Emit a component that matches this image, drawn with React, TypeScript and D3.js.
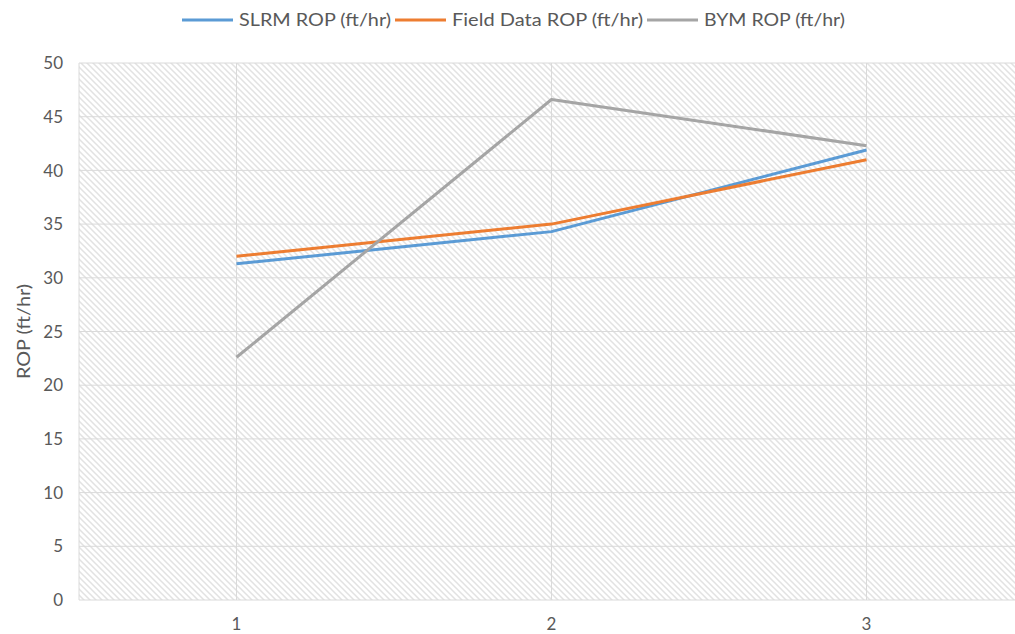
import { useEffect, useRef } from "react";
import * as d3 from "d3";

const categories = ["1", "2", "3"];
const slrm = [31.3, 34.3, 41.9];
const field = [32.0, 35.0, 41.0];
const bym = [22.6, 46.6, 42.3];
const yTicks = [0, 5, 10, 15, 20, 25, 30, 35, 40, 45, 50];

const seriesList = [
  { name: "SLRM ROP (ft/hr)", values: slrm, color: "#5b9bd5" },
  { name: "Field Data ROP (ft/hr)", values: field, color: "#ed7d31" },
  { name: "BYM ROP (ft/hr)", values: bym, color: "#a5a5a5" },
];

function App() {
  const ref = useRef<SVGSVGElement>(null);

  useEffect(() => {
    const width = 1015;
    const height = 634;
    const margin = { top: 63, right: -9, bottom: 34, left: 79 };
    const font = "Lato, 'Open Sans', sans-serif";
    const textColor = "#595959";

    const svg = d3.select(ref.current);
    svg.selectAll("*").remove();
    svg.attr("width", width).attr("height", height);

    // hatch fill for plot area
    const defs = svg.append("defs");
    const pat = defs.append("pattern")
      .attr("id", "hatch")
      .attr("patternUnits", "userSpaceOnUse")
      .attr("width", 6)
      .attr("height", 6);
    pat.append("rect").attr("width", 6).attr("height", 6).attr("fill", "#ffffff");
    pat.append("path")
      .attr("d", "M-1,-1 L7,7 M-4,2 L1,7 M5,-1 L8,2")
      .attr("stroke", "#e2e2e2")
      .attr("stroke-width", 1.5);

    const x = d3.scalePoint()
      .domain(categories)
      .range([margin.left, width - margin.right])
      .padding(0.5);

    const y = d3.scaleLinear()
      .domain([0, 50])
      .range([height - margin.bottom, margin.top]);

    const plotRight = width - margin.right;

    svg.append("rect")
      .attr("x", margin.left)
      .attr("y", margin.top)
      .attr("width", plotRight - margin.left)
      .attr("height", y(0) - margin.top)
      .attr("fill", "url(#hatch)");

    // horizontal gridlines
    svg.append("g")
      .selectAll("line")
      .data(yTicks)
      .join("line")
      .attr("x1", margin.left)
      .attr("x2", plotRight)
      .attr("y1", d => y(d))
      .attr("y2", d => y(d))
      .attr("stroke", "#dadada")
      .attr("stroke-width", 1);

    // vertical gridlines at categories
    svg.append("g")
      .selectAll("line")
      .data(categories)
      .join("line")
      .attr("x1", d => x(d)!)
      .attr("x2", d => x(d)!)
      .attr("y1", margin.top)
      .attr("y2", y(0))
      .attr("stroke", "#dadada")
      .attr("stroke-width", 1);

    // left border
    svg.append("line")
      .attr("x1", margin.left).attr("x2", margin.left)
      .attr("y1", margin.top).attr("y2", y(0))
      .attr("stroke", "#dadada");

    // y tick labels
    svg.append("g")
      .selectAll("text")
      .data(yTicks)
      .join("text")
      .attr("x", 63)
      .attr("y", d => y(d))
      .attr("dy", "0.36em")
      .attr("text-anchor", "end")
      .attr("fill", textColor)
      .style("font-family", font)
      .style("font-size", "17px")
      .text(d => d);

    // x tick labels
    svg.append("g")
      .selectAll("text")
      .data(categories)
      .join("text")
      .attr("x", d => x(d)!)
      .attr("y", 630)
      .attr("text-anchor", "middle")
      .attr("fill", textColor)
      .style("font-family", font)
      .style("font-size", "17px")
      .text(d => d);

    // y axis title
    svg.append("text")
      .attr("transform", `translate(30,${(margin.top + y(0)) / 2}) rotate(-90)`)
      .attr("text-anchor", "middle")
      .attr("fill", textColor)
      .style("font-family", font)
      .style("font-size", "17px")
      .attr("textLength", 95)
      .attr("lengthAdjust", "spacingAndGlyphs")
      .text("ROP (ft/hr)");

    // lines
    const line = d3.line<number>()
      .x((_, i) => x(categories[i])!)
      .y(d => y(d));

    svg.append("g")
      .selectAll("path")
      .data(seriesList)
      .join("path")
      .attr("d", d => line(d.values))
      .attr("fill", "none")
      .attr("stroke", d => d.color)
      .attr("stroke-width", 3)
      .attr("stroke-linejoin", "round");

    // legend
    const legendX = [182, 395, 647];
    const legendW = [152, 191, 141];
    const legend = svg.append("g")
      .selectAll("g")
      .data(seriesList)
      .join("g")
      .attr("transform", (_, i) => `translate(${legendX[i]},20)`);
    legend.append("line")
      .attr("x1", 0).attr("x2", 51)
      .attr("stroke", d => d.color)
      .attr("stroke-width", 3);
    legend.append("text")
      .attr("x", 57)
      .attr("dy", "0.36em")
      .attr("fill", textColor)
      .style("font-family", font)
      .style("font-size", "17px")
      .attr("textLength", (_, i) => legendW[i])
      .attr("lengthAdjust", "spacingAndGlyphs")
      .text(d => d.name);
  }, []);

  return <svg ref={ref} style={{ position: "absolute", left: 0, top: 0 }}></svg>;
}

export default App;
